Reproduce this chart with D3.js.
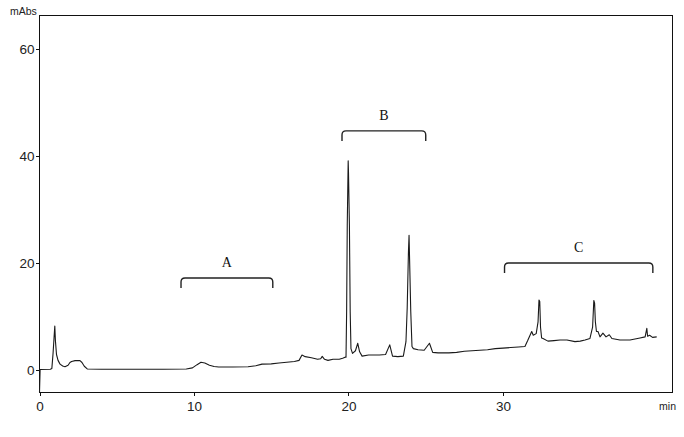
<!DOCTYPE html>
<html><head><meta charset="utf-8">
<script src="https://cdn.jsdelivr.net/npm/d3@7"></script>
<style>html,body{margin:0;padding:0;background:#fff;}svg{display:block;}</style>
</head><body>
<svg id="c" width="684" height="437"></svg>
<script>
// ---- data ----
const timeMin = [0.00,0.04,0.7,0.8,0.88,0.94,0.99,1.03,1.1,1.2,1.33,1.5,1.65,1.85,1.97,2.08,2.3,2.62,2.75,2.9,3.09,4.0,6.0,8.0,9.5,9.9,10.2,10.45,10.7,11.0,11.3,11.6,12.5,13.5,14.0,14.4,15.0,15.5,16.0,16.5,16.8,16.99,17.2,17.6,18.0,18.2,18.3,18.45,18.67,19.0,19.4,19.62,19.78,19.84,19.88,19.92,19.98,20.0,20.06,20.11,20.16,20.26,20.45,20.6,20.72,20.88,21.3,22.0,22.4,22.67,22.85,23.2,23.55,23.72,23.8,23.88,23.92,23.96,24.03,24.11,24.2,24.5,24.9,25.24,25.45,25.8,26.5,27.0,27.5,28.0,28.5,29.0,29.5,30.0,30.5,31.0,31.42,31.6,31.86,31.96,32.15,32.27,32.33,32.38,32.43,32.5,32.59,32.91,33.3,33.69,34.14,34.66,35.0,35.31,35.63,35.8,35.88,35.93,35.98,36.05,36.15,36.28,36.47,36.67,36.88,37.05,37.57,38.22,38.87,39.2,39.31,39.36,39.49,39.68,39.95];
const absorbance = [-4.2,0.1,0.15,0.3,3.2,6.0,8.2,5.5,2.9,1.8,1.1,0.75,0.6,0.9,1.4,1.6,1.75,1.75,1.4,0.7,0.2,0.15,0.15,0.15,0.2,0.4,1.0,1.44,1.3,0.9,0.65,0.55,0.55,0.6,0.8,1.1,1.15,1.3,1.45,1.6,1.8,2.8,2.5,2.3,2.0,2.1,2.55,2.0,1.8,2.0,2.0,2.2,2.4,2.4,11.0,27.0,39.1,37.0,27.0,11.0,4.0,3.1,3.6,5.0,3.4,2.6,2.8,2.8,2.9,4.7,2.6,2.5,2.6,5.3,11.6,22.0,25.2,20.0,11.0,4.4,4.0,3.8,3.7,5.0,3.3,3.2,3.2,3.3,3.5,3.6,3.7,3.8,4.0,4.1,4.2,4.3,4.4,5.5,7.2,6.5,6.8,9.0,13.1,12.8,8.0,6.0,5.9,5.4,5.5,5.6,5.6,5.3,5.4,5.6,5.9,8.0,13.0,12.5,9.0,7.2,7.2,6.2,6.9,6.2,6.6,5.9,5.6,5.6,6.0,6.2,7.8,6.3,6.5,6.1,6.2];
const xTicks = [0,10,20,30];
const yTicks = [0,20,40,60];
const bracketLabels = ["A","B","C"];
const bracketStart = [9.16,19.58,30.1];
const bracketEnd = [15.1,25.0,39.7];
const bracketLevel = [17.2,44.7,20.0];

// ---- layout ----
const svg = d3.select("#c");
const L = 39.5, R = 672, T = 15, B = 392;
const x = d3.scaleLinear().domain([0, 40.94]).range([L, R]);
const y = d3.scaleLinear().domain([-4.11, 66.36]).range([B, T]);
const ink = "#111";

// frame
svg.append("rect").attr("x", L).attr("y", T).attr("width", R - L).attr("height", B - T)
  .attr("fill", "none").attr("stroke", ink).attr("stroke-width", 1).attr("shape-rendering","crispEdges");

// axes
const gx = svg.append("g").attr("transform", `translate(0,${B})`)
  .call(d3.axisBottom(x).tickValues(xTicks).tickSize(4).tickPadding(5).tickFormat(d3.format("d")));
const gy = svg.append("g").attr("transform", `translate(${L},0)`)
  .call(d3.axisLeft(y).tickValues(yTicks).tickSize(4).tickPadding(1).tickFormat(d3.format("d")));
[gx, gy].forEach(g => {
  g.select(".domain").remove();
  g.selectAll("line").attr("stroke", ink).attr("shape-rendering","crispEdges");
  g.selectAll("text").attr("fill", "#222").style("font-family", "'Liberation Sans', Arial, sans-serif").style("font-size", "13.5px");
});

svg.append("text").attr("x", 10).attr("y", 15).text("mAbs")
  .style("font-family", "'Liberation Sans', Arial, sans-serif").style("font-size", "10.5px").attr("fill", "#222");
svg.append("text").attr("x", 676).attr("y", 410).attr("text-anchor", "end").text("min")
  .style("font-family", "'Liberation Sans', Arial, sans-serif").style("font-size", "10.5px").attr("fill", "#222");

// trace
const pts = timeMin.map((t, i) => [t, absorbance[i]]);
svg.append("path").datum(pts)
  .attr("d", d3.line().x(d => x(d[0])).y(d => y(d[1])))
  .attr("fill", "none").attr("stroke", "#1a1a1a").attr("stroke-width", 1.1).attr("stroke-linejoin", "round");

// brackets
bracketLabels.forEach((lab, i) => {
  const x1 = x(bracketStart[i]), x2 = x(bracketEnd[i]);
  const yt = y(bracketLevel[i]), yb = yt + 10, r = 4;
  svg.append("path")
    .attr("d", `M${x1},${yb} L${x1},${yt + r} Q${x1},${yt} ${x1 + r},${yt} L${x2 - r},${yt} Q${x2},${yt} ${x2},${yt + r} L${x2},${yb}`)
    .attr("fill", "none").attr("stroke", "#222").attr("stroke-width", 1.4);
  svg.append("text").attr("x", (x1 + x2) / 2).attr("y", yt - 11).attr("text-anchor", "middle").text(lab)
    .style("font-family", "'Liberation Serif', 'Times New Roman', serif").style("font-size", "14px").attr("fill", "#111");
});
</script>
</body></html>
